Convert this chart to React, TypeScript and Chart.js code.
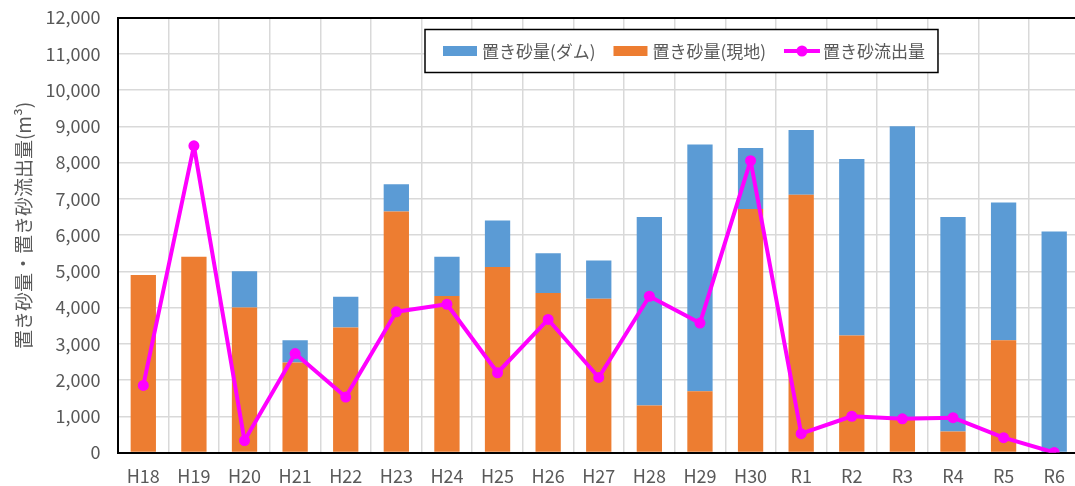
import React, { useEffect, useRef } from 'react';
import { Chart, registerables } from 'chart.js';

Chart.register(...registerables);

const categories = ['H18', 'H19', 'H20', 'H21', 'H22', 'H23', 'H24', 'H25', 'H26', 'H27', 'H28', 'H29', 'H30', 'R1', 'R2', 'R3', 'R4', 'R5', 'R6'];
// 置き砂量(ダム)
const damValues = [0, 0, 1000, 620, 850, 750, 1080, 1280, 1100, 1060, 5200, 6810, 1680, 1790, 4870, 8100, 5920, 3800, 6100];
// 置き砂量(現地)
const genchiValues = [4900, 5400, 4000, 2480, 3450, 6650, 4320, 5120, 4400, 4240, 1300, 1690, 6720, 7110, 3230, 900, 580, 3100, 0];
// 置き砂流出量
const outflowValues = [1850, 8460, 330, 2730, 1530, 3880, 4090, 2200, 3670, 2070, 4310, 3570, 8050, 520, 1000, 930, 960, 410, 0];

const seriesLabels = ['置き砂量(ダム)', '置き砂量(現地)', '置き砂流出量'];
const yAxisTitle = '　置き砂量・置き砂流出量(m³)';
const yMin = 0;
const yMax = 12000;
const yStep = 1000;

const FONT = '"Noto Sans CJK JP", "Noto Sans", sans-serif';
const TEXT = '#595959';
const BLUE = '#5B9BD5';
const ORANGE = '#ED7D31';
const MAGENTA = '#FF00FF';

const boxLegend = {
  id: 'boxLegend',
  afterDraw(chart: any) {
    const ctx = chart.ctx as CanvasRenderingContext2D;
    const area = chart.chartArea;
    const left = area.left + 307;
    const top = area.top + 12;
    const h = 43;
    const padL = 18;
    const padR = 13;
    const symW = 34;
    const gapSym = 5;
    const gapItem = 18;
    ctx.save();
    ctx.font = `17px ${FONT}`;
    const ds = chart.data.datasets;
    const items = [
      { label: ds[1].label, color: ds[1].backgroundColor, type: 'bar' },
      { label: ds[0].label, color: ds[0].backgroundColor, type: 'bar' },
      { label: ds[2].label, color: ds[2].borderColor, type: 'line' },
    ];
    let total = padL + padR;
    items.forEach((it, i) => {
      total += symW + gapSym + ctx.measureText(it.label).width + (i < items.length - 1 ? gapItem : 0);
    });
    ctx.fillStyle = '#fff';
    ctx.fillRect(left, top, total, h);
    ctx.strokeStyle = '#000';
    ctx.lineWidth = 1.5;
    ctx.strokeRect(left, top, total, h);
    const cy = top + h / 2;
    let x = left + padL;
    items.forEach((it) => {
      if (it.type === 'bar') {
        ctx.fillStyle = it.color;
        ctx.fillRect(x, cy - 5, symW, 10);
      } else {
        ctx.strokeStyle = it.color;
        ctx.lineWidth = 4;
        ctx.beginPath();
        ctx.moveTo(x, cy);
        ctx.lineTo(x + symW + 2, cy);
        ctx.stroke();
        ctx.fillStyle = it.color;
        ctx.beginPath();
        ctx.arc(x + (symW + 2) / 2, cy, 5.5, 0, Math.PI * 2);
        ctx.fill();
      }
      x += symW + gapSym;
      ctx.fillStyle = TEXT;
      ctx.textBaseline = 'middle';
      ctx.textAlign = 'left';
      ctx.fillText(it.label, x, cy + 1);
      x += ctx.measureText(it.label).width + gapItem;
    });
    ctx.restore();
  },
};

export default function App() {
  const ref = useRef<HTMLCanvasElement | null>(null);

  useEffect(() => {
    if (!ref.current) return;
    Chart.defaults.font.family = FONT;
    const chart = new Chart(ref.current, {
      type: 'bar',
      data: {
        labels: categories,
        datasets: [
          {
            type: 'bar',
            label: seriesLabels[1],
            data: genchiValues,
            backgroundColor: ORANGE,
            stack: 'bars',
            barPercentage: 0.5,
            categoryPercentage: 1.0,
            order: 1,
          },
          {
            type: 'bar',
            label: seriesLabels[0],
            data: damValues,
            backgroundColor: BLUE,
            stack: 'bars',
            barPercentage: 0.5,
            categoryPercentage: 1.0,
            order: 1,
          },
          {
            type: 'line',
            label: seriesLabels[2],
            data: outflowValues,
            borderColor: MAGENTA,
            backgroundColor: MAGENTA,
            borderWidth: 4,
            borderJoinStyle: 'round',
            borderCapStyle: 'round',
            pointRadius: 5.5,
            pointBackgroundColor: MAGENTA,
            pointBorderColor: MAGENTA,
            pointBorderWidth: 0,
            tension: 0,
            stack: 'line',
            order: 0,
          } as any,
        ],
      },
      options: {
        animation: false,
        responsive: true,
        maintainAspectRatio: false,
        layout: { padding: { left: 0, right: 5, top: 17.5, bottom: 0 } },
        plugins: {
          legend: { display: false },
          tooltip: { enabled: false },
        },
        scales: {
          x: {
            stacked: true,
            offset: true,
            grid: { display: true, offset: true, color: '#D9D9D9', lineWidth: 1.5, drawTicks: false },
            border: { display: true, color: '#000', width: 2 },
            ticks: { color: TEXT, font: { size: 18, family: FONT }, padding: 13, maxRotation: 0, autoSkip: false },
            afterFit(scale: any) {
              scale.height = 33.5;
              scale.paddingLeft = 0;
              scale.paddingRight = 0;
            },
          },
          y: {
            stacked: true,
            min: yMin,
            max: yMax,
            grid: {
              color: (c: any) => (c.tick && c.tick.value === yMax ? '#000' : '#D9D9D9'),
              lineWidth: (c: any) => (c.tick && c.tick.value === yMax ? 2 : 1.5),
              drawTicks: false,
            },
            border: { display: true, color: '#000', width: 2 },
            ticks: {
              stepSize: yStep,
              color: TEXT,
              font: { size: 18, family: FONT },
              padding: 17.5,
              callback: (v: any) => Number(v).toLocaleString('en-US'),
            },
            title: {
              display: true,
              text: yAxisTitle,
              color: TEXT,
              font: { size: 19, family: FONT },
              padding: { top: 12, bottom: 0 },
            },
            afterFit(scale: any) {
              scale.width = 118;
              scale.paddingTop = 0;
              scale.paddingBottom = 0;
            },
          },
        },
      },
      plugins: [boxLegend],
    });
    return () => chart.destroy();
  }, []);

  return (
    <div style={{ position: 'fixed', left: 0, top: 0, width: 1075, height: 486, overflow: 'hidden', background: '#fff' }}>
      <div style={{ position: 'relative', width: 1085, height: 486 }}>
        <canvas ref={ref} />
      </div>
    </div>
  );
}
